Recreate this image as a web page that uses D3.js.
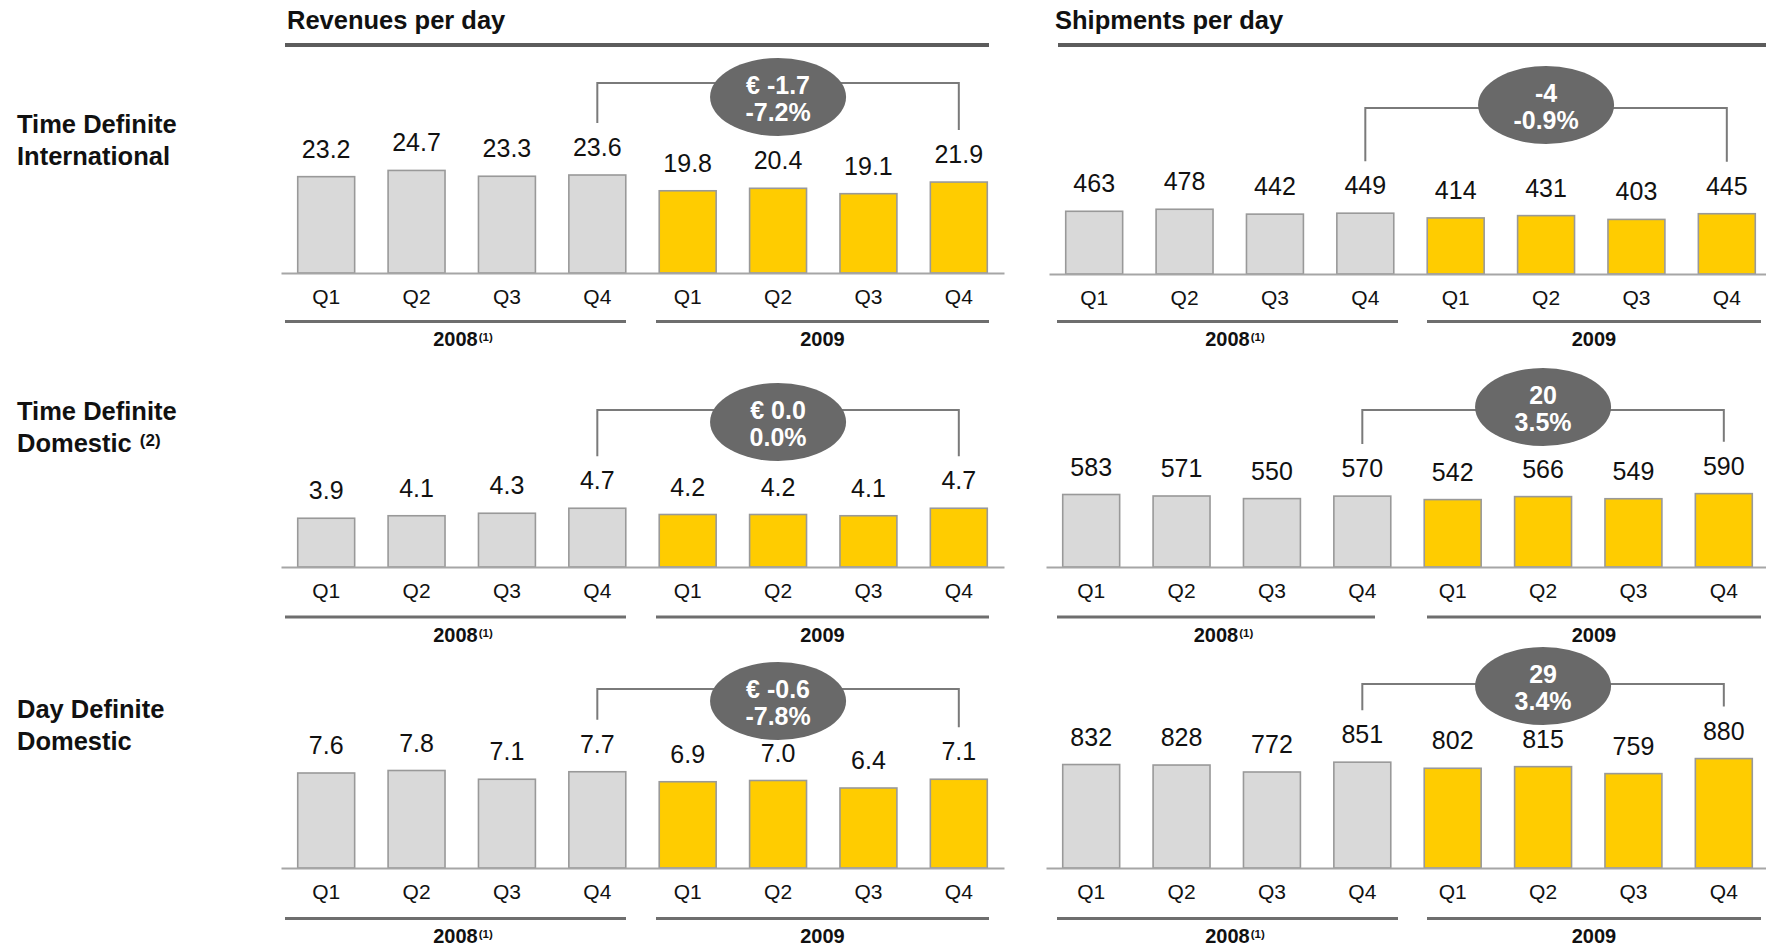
<!DOCTYPE html>
<html>
<head>
<meta charset="utf-8">
<script src="https://cdn.jsdelivr.net/npm/d3@7"></script>
<style>
  html, body { margin: 0; padding: 0; background: #fff; }
  svg { display: block; font-family: "Liberation Sans", Arial, Helvetica, sans-serif; }
</style>
</head>
<body>
<svg id="chart" width="1766" height="947"></svg>
<script>
// ---- data ----
const quarters = ["Q1", "Q2", "Q3", "Q4"];
const years = ["2008", "2009"];
const yearNotes = ["(1)", ""];
const metricTitles = ["Revenues per day", "Shipments per day"];
const segmentLines = [["Time Definite", "International"], ["Time Definite", "Domestic"], ["Day Definite", "Domestic"]];
const segmentNotes = ["", "(2)", ""];

// revenues per day (€ m), Q1..Q4 2008 then Q1..Q4 2009
const revTDI = [23.2, 24.7, 23.3, 23.6, 19.8, 20.4, 19.1, 21.9];
const revTDD = [3.9, 4.1, 4.3, 4.7, 4.2, 4.2, 4.1, 4.7];
const revDDD = [7.6, 7.8, 7.1, 7.7, 6.9, 7.0, 6.4, 7.1];
// shipments per day (thousands)
const shipTDI = [463, 478, 442, 449, 414, 431, 403, 445];
const shipTDD = [583, 571, 550, 570, 542, 566, 549, 590];
const shipDDD = [832, 828, 772, 851, 802, 815, 759, 880];
// Q4 2009 vs Q4 2008
const revChange = ["€ -1.7", "€ 0.0", "€ -0.6"];
const revChangePct = ["-7.2%", "0.0%", "-7.8%"];
const shipChange = ["-4", "20", "29"];
const shipChangePct = ["-0.9%", "3.5%", "3.4%"];

// ---- layout ----
const layout = {
  titleX: [287, 1055],
  titleBase: 29,
  headerRule: [[285, 989], [1058, 1766]],
  headerY: 45,
  band: [
    [[281, 1004], [281, 1004], [281, 1004]],
    [[1049, 1772], [1046, 1769], [1046, 1769]]
  ],
  axisY: [[273, 567, 868], [274, 567, 868]],
  yMax: [[28.9, 9.6, 9.6], [886, 965, 965]],
  plotH: 120,
  yearRuleY: [321.5, 617, 918.5],
  yearRules: [
    [[[285, 626], [656, 989]], [[285, 626], [656, 989]], [[285, 626], [656, 989]]],
    [[[1057, 1398], [1427, 1761]], [[1057, 1375], [1427, 1761]], [[1057, 1398], [1427, 1761]]]
  ],
  bracketTop: [[83, 410, 689], [108, 410, 684]],
  bubbleCy: [[97, 422, 701], [105, 407, 686]],
  rowLabelX: 17,
  rowLabelBase: [133, 420, 718],
  rowLineGap: 32
};

const colors = {
  past: "#d9d9d9",
  current: "#ffcc00",
  barStroke: "#999999",
  axis: "#a6a6a6",
  rule: "#6e6e6e",
  header: "#5c5c5c",
  bracket: "#7a7a7a",
  bubble: "#696969",
  text: "#111111"
};

const keys = years.flatMap(y => quarters.map(q => y + " " + q));
const metrics = [
  { series: [revTDI, revTDD, revDDD], fmt: d3.format(".1f"), change: revChange, pct: revChangePct },
  { series: [shipTDI, shipTDD, shipDDD], fmt: d3.format("d"), change: shipChange, pct: shipChangePct }
];

const svg = d3.select("#chart");

// column headings
metricTitles.forEach((t, c) => {
  svg.append("text")
    .attr("x", layout.titleX[c]).attr("y", layout.titleBase)
    .attr("font-size", 25.5).attr("font-weight", "bold").attr("fill", colors.text)
    .text(t);
  svg.append("line")
    .attr("x1", layout.headerRule[c][0]).attr("x2", layout.headerRule[c][1])
    .attr("y1", layout.headerY).attr("y2", layout.headerY)
    .attr("stroke", colors.header).attr("stroke-width", 4);
});

// segment names
segmentLines.forEach((lines, r) => {
  const t = svg.append("text")
    .attr("x", layout.rowLabelX).attr("y", layout.rowLabelBase[r])
    .attr("font-size", 25.5).attr("font-weight", "bold").attr("fill", colors.text);
  t.append("tspan").attr("x", layout.rowLabelX).text(lines[0]);
  t.append("tspan").attr("x", layout.rowLabelX).attr("dy", layout.rowLineGap).text(lines[1]);
  if (segmentNotes[r]) {
    t.append("tspan").attr("dx", 8).attr("dy", -6).attr("font-size", 17).text(segmentNotes[r]);
  }
});

// one bar panel per metric x segment
metrics.forEach((m, c) => {
  m.series.forEach((values, r) => {
    const axisY = layout.axisY[c][r];
    const x = d3.scaleBand().domain(keys).range(layout.band[c][r])
      .paddingInner(0.37).paddingOuter(0.185);
    const y = d3.scaleLinear().domain([0, layout.yMax[c][r]])
      .range([axisY, axisY - layout.plotH]);
    const data = keys.map((k, i) => ({ key: k, year: k.split(" ")[0], q: k.split(" ")[1], v: values[i] }));

    const g = svg.append("g");

    // bars
    g.selectAll("rect.bar").data(data).join("rect")
      .attr("class", "bar")
      .attr("x", d => x(d.key))
      .attr("width", x.bandwidth())
      .attr("y", d => y(d.v))
      .attr("height", d => y(0) - y(d.v))
      .attr("fill", d => d.year === years[1] ? colors.current : colors.past)
      .attr("stroke", colors.barStroke).attr("stroke-width", 1.6);

    // category axis
    const axis = d3.axisBottom(x).tickSizeInner(0).tickSizeOuter(0).tickPadding(16)
      .tickFormat(k => k.split(" ")[1]);
    const ag = g.append("g").attr("transform", `translate(0,${axisY})`).call(axis);
    ag.select(".domain").attr("stroke", colors.axis).attr("stroke-width", 2);
    ag.selectAll(".tick text")
      .attr("font-size", 21).attr("fill", colors.text)
      .attr("font-family", "'Liberation Sans', Arial, sans-serif");

    // value labels
    g.selectAll("text.val").data(data).join("text")
      .attr("class", "val")
      .attr("x", d => x(d.key) + x.bandwidth() / 2)
      .attr("y", d => y(d.v) - 19)
      .attr("text-anchor", "middle")
      .attr("font-size", 25).attr("fill", colors.text)
      .text(d => m.fmt(d.v));

    // year rules and labels
    const ruleY = layout.yearRuleY[r];
    years.forEach((yr, yi) => {
      const [a, b] = layout.yearRules[c][r][yi];
      g.append("line")
        .attr("x1", a).attr("x2", b).attr("y1", ruleY).attr("y2", ruleY)
        .attr("stroke", colors.rule).attr("stroke-width", 3);
      const lbl = g.append("text")
        .attr("y", ruleY + 24.5)
        .attr("font-size", 20).attr("font-weight", "bold").attr("fill", colors.text)
        .text(yr);
      const w = lbl.node().getComputedTextLength();
      lbl.attr("x", (a + b) / 2 - w / 2);
      if (yearNotes[yi]) {
        lbl.append("tspan").attr("dx", 1).attr("dy", -5)
          .attr("font-size", 11.5).text(yearNotes[yi]);
      }
    });

    // Q4 vs Q4 bracket with change bubble
    const k0 = years[0] + " Q4", k1 = years[1] + " Q4";
    const v0 = values[keys.indexOf(k0)], v1 = values[keys.indexOf(k1)];
    const xa = x(k0) + x.bandwidth() / 2, xb = x(k1) + x.bandwidth() / 2;
    const top = layout.bracketTop[c][r];
    g.append("path")
      .attr("d", `M${xa},${y(v0) - 52}V${top}H${xb}V${y(v1) - 52}`)
      .attr("fill", "none").attr("stroke", colors.bracket).attr("stroke-width", 2);
    const cx = (xa + xb) / 2, cy = layout.bubbleCy[c][r];
    g.append("ellipse")
      .attr("cx", cx).attr("cy", cy).attr("rx", 68).attr("ry", 39)
      .attr("fill", colors.bubble);
    g.append("text")
      .attr("x", cx).attr("y", cy - 3)
      .attr("text-anchor", "middle").attr("font-size", 25).attr("font-weight", "bold")
      .attr("fill", "#fff").text(m.change[r]);
    g.append("text")
      .attr("x", cx).attr("y", cy + 24)
      .attr("text-anchor", "middle").attr("font-size", 25).attr("font-weight", "bold")
      .attr("fill", "#fff").text(m.pct[r]);
  });
});
</script>
</body>
</html>
